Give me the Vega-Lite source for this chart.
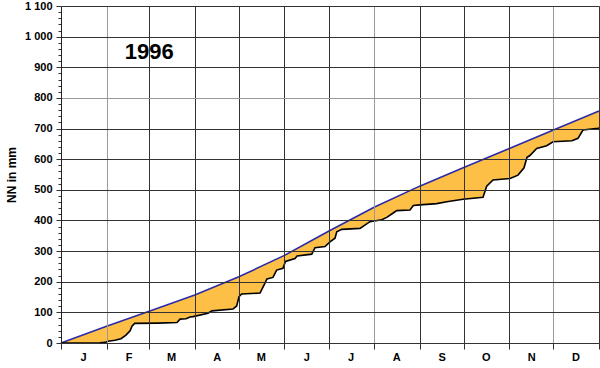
{
  "$schema": "https://vega.github.io/schema/vega-lite/v6.json",
  "width": 538,
  "height": 337,
  "autosize": "none",
  "padding": {"left": 61, "top": 6, "right": 1, "bottom": 25},
  "background": "white",
  "config": {
    "view": {"stroke": null},
    "font": "Liberation Sans"
  },
  "datasets": {
    "mean": [
      {"day": 0, "mm": 0}, {"day": 31, "mm": 55}, {"day": 60, "mm": 104}, {"day": 91, "mm": 157},
      {"day": 121, "mm": 216}, {"day": 152, "mm": 286}, {"day": 182, "mm": 365}, {"day": 213, "mm": 443},
      {"day": 244, "mm": 512}, {"day": 274, "mm": 573}, {"day": 305, "mm": 635}, {"day": 335, "mm": 695},
      {"day": 366, "mm": 757}
    ],
    "actual": [
      {"day": 0, "mm": 0}, {"day": 20, "mm": 0}, {"day": 26.5, "mm": 1}, {"day": 30, "mm": 2},
      {"day": 32, "mm": 6}, {"day": 36.7, "mm": 9}, {"day": 40.8, "mm": 14}, {"day": 44.2, "mm": 26},
      {"day": 47, "mm": 40}, {"day": 48.3, "mm": 55}, {"day": 50.1, "mm": 64}, {"day": 66, "mm": 65},
      {"day": 78.9, "mm": 67}, {"day": 81, "mm": 78}, {"day": 85, "mm": 79}, {"day": 87.8, "mm": 85},
      {"day": 89.8, "mm": 86}, {"day": 100, "mm": 97}, {"day": 102.7, "mm": 105}, {"day": 117, "mm": 111},
      {"day": 119.5, "mm": 121}, {"day": 121.1, "mm": 151}, {"day": 122.9, "mm": 160}, {"day": 135.4, "mm": 163},
      {"day": 138.1, "mm": 189}, {"day": 140.1, "mm": 209}, {"day": 144.2, "mm": 214}, {"day": 146.7, "mm": 238},
      {"day": 151, "mm": 244}, {"day": 152.7, "mm": 266}, {"day": 159.2, "mm": 276}, {"day": 160.6, "mm": 284},
      {"day": 170.6, "mm": 290}, {"day": 172.8, "mm": 311}, {"day": 179.6, "mm": 315}, {"day": 183, "mm": 330},
      {"day": 186.4, "mm": 342}, {"day": 187.6, "mm": 363}, {"day": 191, "mm": 371}, {"day": 203.4, "mm": 374},
      {"day": 210.2, "mm": 396}, {"day": 218.2, "mm": 402}, {"day": 221.6, "mm": 410}, {"day": 225, "mm": 421},
      {"day": 228.4, "mm": 432}, {"day": 237.4, "mm": 434}, {"day": 239.7, "mm": 449}, {"day": 244.2, "mm": 451},
      {"day": 255.6, "mm": 455}, {"day": 262.4, "mm": 461}, {"day": 273.5, "mm": 469}, {"day": 287.1, "mm": 476},
      {"day": 289.6, "mm": 512}, {"day": 293.9, "mm": 532}, {"day": 305.5, "mm": 537}, {"day": 310.9, "mm": 548},
      {"day": 315, "mm": 572}, {"day": 317, "mm": 606}, {"day": 319, "mm": 612}, {"day": 323.6, "mm": 635},
      {"day": 330.4, "mm": 644}, {"day": 334.7, "mm": 657}, {"day": 347.6, "mm": 660}, {"day": 351.7, "mm": 668},
      {"day": 355.1, "mm": 695}, {"day": 365.3, "mm": 701}, {"day": 366, "mm": 702}
    ]
  },
  "layer": [
    {
      "encoding": {
        "x": {
          "field": "day", "type": "quantitative",
          "scale": {"domain": [0, 366], "nice": false, "zero": false},
          "axis": {
            "title": null,
            "values": [0, 31, 60, 91, 121, 152, 182, 213, 244, 274, 305, 335, 366],
            "labelExpr": "datum.value==0?'J':datum.value==31?'F':datum.value==60?'M':datum.value==91?'A':datum.value==121?'M':datum.value==152?'J':datum.value==182?'J':datum.value==213?'A':datum.value==244?'S':datum.value==274?'O':datum.value==305?'N':datum.value==335?'D':''",
            "labelOffset": 22,
            "labelFont": "Liberation Sans",
            "labelFontWeight": "bold",
            "labelFontSize": 11,
            "labelColor": "black",
            "labelPadding": 2,
            "labelFlush": false,
            "labelOverlap": false,
            "tickSize": 6,
            "tickColor": "#333333",
            "domain": true,
            "domainColor": "#333333",
            "grid": true,
            "gridColor": {"condition": {"test": "datum.value==31||datum.value==213||datum.value==335", "value": "#9a9a9a"}, "value": "#333333"},
            "gridOpacity": 1,
            "gridWidth": 1,
            "zindex": 1
          }
        },
        "y": {
          "field": "mm", "type": "quantitative",
          "scale": {"domain": [0, 1100], "nice": false},
          "axis": {
            "title": "NN in mm",
            "titleFont": "Liberation Sans",
            "titleFontWeight": "bold",
            "titleFontSize": 12,
            "titleColor": "black",
            "titlePadding": 6,
            "values": [0,20,40,60,80,100,120,140,160,180,200,220,240,260,280,300,320,340,360,380,400,420,440,460,480,500,520,540,560,580,600,620,640,660,680,700,720,740,760,780,800,820,840,860,880,900,920,940,960,980,1000,1020,1040,1060,1080,1100],
            "labelExpr": "datum.value % 100 != 0 ? '' : (datum.value >= 1000 ? floor(datum.value/1000) + ' ' + substring(format(datum.value % 1000, '03d'), 0, 3) : '' + datum.value)",
            "labelFont": "Liberation Sans",
            "labelFontWeight": "bold",
            "labelFontSize": 11,
            "labelColor": "black",
            "labelPadding": 4,
            "labelOverlap": false,
            "labelFlush": false,
            "tickSize": {"condition": {"test": "datum.value % 100 == 0", "value": 5}, "value": 3},
            "tickColor": "#333333",
            "domain": true,
            "domainColor": "#222222",
            "grid": true,
            "gridColor": {"condition": {"test": "datum.value == 800", "value": "#9a9a9a"}, "value": "#333333"},
            "gridOpacity": {"condition": {"test": "datum.value % 100 == 0", "value": 1}, "value": 0},
            "gridWidth": 1,
            "zindex": 1
          }
        }
      },
      "layer": [
        {"data": {"name": "mean"}, "mark": {"type": "area", "color": "#FDBF45", "opacity": 1}},
        {"data": {"name": "actual"}, "mark": {"type": "area", "color": "white", "opacity": 1}},
        {"data": {"name": "mean"}, "mark": {"type": "line", "color": "#2B2BA8", "strokeWidth": 1.6}},
        {"data": {"name": "actual"}, "mark": {"type": "line", "color": "black", "strokeWidth": 1.6}}
      ]
    },
    {
      "data": {"values": [{"label": "1996"}]},
      "mark": {"type": "text", "font": "Liberation Sans", "fontWeight": "bold", "fontSize": 22, "fill": "black", "baseline": "middle", "align": "center"},
      "encoding": {
        "x": {
          "datum": 60, "type": "quantitative",
          "scale": {"domain": [0, 366], "nice": false, "zero": false},
          "axis": {
            "title": null,
            "values": [0, 31, 60, 91, 121, 152, 182, 213, 244, 274, 305, 335, 366],
            "labelExpr": "datum.value==0?'J':datum.value==31?'F':datum.value==60?'M':datum.value==91?'A':datum.value==121?'M':datum.value==152?'J':datum.value==182?'J':datum.value==213?'A':datum.value==244?'S':datum.value==274?'O':datum.value==305?'N':datum.value==335?'D':''",
            "labelOffset": 22,
            "labelFont": "Liberation Sans",
            "labelFontWeight": "bold",
            "labelFontSize": 11,
            "labelColor": "black",
            "labelPadding": 2,
            "labelFlush": false,
            "labelOverlap": false,
            "tickSize": 6,
            "tickColor": "#333333",
            "domain": true,
            "domainColor": "#333333",
            "grid": true,
            "gridColor": {"condition": {"test": "datum.value==31||datum.value==213||datum.value==335", "value": "#9a9a9a"}, "value": "#333333"},
            "gridOpacity": 1,
            "gridWidth": 1,
            "zindex": 1
          }
        },
        "y": {
          "datum": 951, "type": "quantitative",
          "scale": {"domain": [0, 1100], "nice": false},
          "axis": {
            "title": "NN in mm",
            "titleFont": "Liberation Sans",
            "titleFontWeight": "bold",
            "titleFontSize": 12,
            "titleColor": "black",
            "titlePadding": 6,
            "values": [0,20,40,60,80,100,120,140,160,180,200,220,240,260,280,300,320,340,360,380,400,420,440,460,480,500,520,540,560,580,600,620,640,660,680,700,720,740,760,780,800,820,840,860,880,900,920,940,960,980,1000,1020,1040,1060,1080,1100],
            "labelExpr": "datum.value % 100 != 0 ? '' : (datum.value >= 1000 ? floor(datum.value/1000) + ' ' + substring(format(datum.value % 1000, '03d'), 0, 3) : '' + datum.value)",
            "labelFont": "Liberation Sans",
            "labelFontWeight": "bold",
            "labelFontSize": 11,
            "labelColor": "black",
            "labelPadding": 4,
            "labelOverlap": false,
            "labelFlush": false,
            "tickSize": {"condition": {"test": "datum.value % 100 == 0", "value": 5}, "value": 3},
            "tickColor": "#333333",
            "domain": true,
            "domainColor": "#222222",
            "grid": true,
            "gridColor": {"condition": {"test": "datum.value == 800", "value": "#9a9a9a"}, "value": "#333333"},
            "gridOpacity": {"condition": {"test": "datum.value % 100 == 0", "value": 1}, "value": 0},
            "gridWidth": 1,
            "zindex": 1
          }
        },
        "text": {"field": "label", "type": "nominal"}
      }
    }
  ]
}
